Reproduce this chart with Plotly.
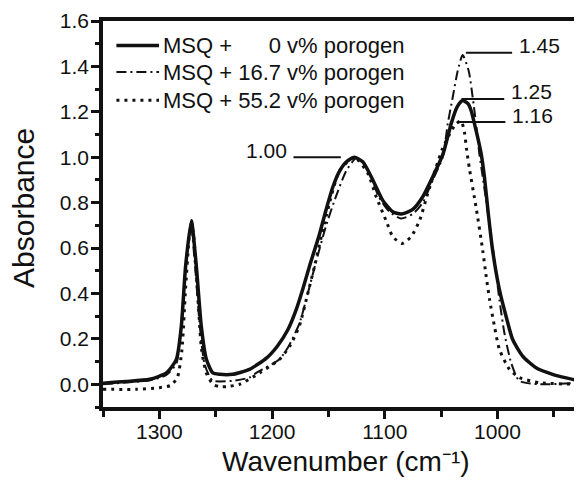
import plotly.graph_objects as go

# ---------------- data ----------------
wn_0 = [1350, 1330, 1308.6, 1293.8, 1284.9, 1280.5, 1276.7, 1271.6, 1267.2, 1262.8, 1258.3,
        1252.5, 1246.5, 1235, 1220, 1205, 1195, 1186, 1178.5, 1172.7, 1166.8,
        1158, 1152, 1146, 1140, 1134, 1127, 1119.5, 1110.6, 1101.8, 1092.9, 1085.5, 1075.2,
        1066.3, 1057.4, 1048.6, 1042.6, 1041.1, 1036, 1031, 1026, 1023.4, 1019, 1014.5,
        1011.6, 1008.1, 1004.3, 998.3, 992.4, 986.5, 977.7, 965.8, 951.1, 927.4, 920]
abs_0 = [0.005, 0.012, 0.022, 0.05, 0.11, 0.256, 0.52, 0.72, 0.52, 0.256, 0.11,
         0.05, 0.044, 0.044, 0.066, 0.115, 0.17, 0.24, 0.33, 0.42, 0.52,
         0.66, 0.77, 0.87, 0.94, 0.98, 1.0, 0.98, 0.90, 0.81, 0.76, 0.75, 0.77,
         0.826, 0.914, 1.01, 1.12, 1.148, 1.22, 1.25, 1.235, 1.206, 1.118, 1.016,
         0.914, 0.75, 0.59, 0.417, 0.30, 0.197, 0.124, 0.073, 0.044, 0.015, 0.012]

wn_167 = [1350, 1330, 1308, 1294, 1285, 1281, 1277, 1272, 1268, 1264, 1260, 1255, 1252.5,
          1235, 1220, 1214, 1193.4, 1185, 1175.6, 1168.3, 1161.5, 1152, 1143.1, 1134.2,
          1125.4, 1118, 1104.7, 1095.8, 1085.5, 1075.2, 1066.3, 1057.4, 1048.6, 1044.1,
          1039.7, 1035.3, 1030.9, 1025.5, 1022, 1019, 1016.1, 1013.1, 1002.7, 998.3, 993.9,
          987.9, 980.6, 962.9, 927.4, 920]
abs_167 = [0.0, 0.008, 0.018, 0.04, 0.09, 0.24, 0.5, 0.70, 0.5, 0.25, 0.09, 0.03, 0.015,
           0.015, 0.03, 0.05, 0.11, 0.17, 0.27, 0.40, 0.53, 0.70, 0.83, 0.94,
           0.995, 0.97, 0.82, 0.76, 0.73, 0.75, 0.80, 0.90, 1.0, 1.148,
           1.264, 1.38, 1.45, 1.38, 1.264, 1.148, 1.016, 0.914, 0.55, 0.373, 0.227,
           0.095, 0.015, 0.0, 0.007, 0.008]

wn_552 = [1350, 1320, 1300, 1290, 1284, 1280, 1277, 1273.5, 1271.5, 1269.5, 1266, 1262.5,
          1258.3, 1252.5, 1247, 1240, 1228.8, 1211, 1193.4, 1184, 1175.6, 1168.3, 1162.3, 1152,
          1140.2, 1127, 1115.1, 1107.6, 1098.8, 1092.9, 1084.6, 1076.6, 1069.2, 1061.9,
          1054.4, 1048.6, 1042.6, 1037.3, 1032.3, 1029.3, 1027.3, 1024.9, 1019, 1013.1,
          1010, 1007, 1002.7, 998.3, 989.4, 980.6, 962.9, 927.4, 920]
abs_552 = [-0.022, -0.022, -0.015, -0.005, 0.03, 0.15, 0.4, 0.65, 0.71, 0.65, 0.4, 0.15,
           0.05, 0.0, -0.01, -0.01, 0.0, 0.05, 0.11, 0.17, 0.26, 0.40, 0.52, 0.74,
           0.94, 1.0, 0.93, 0.826, 0.72, 0.65, 0.62, 0.65, 0.72, 0.84,
           0.957, 1.04, 1.10, 1.145, 1.16, 1.11, 1.03, 0.95, 0.78, 0.59,
           0.475, 0.373, 0.256, 0.154, 0.066, 0.03, 0.007, 0.0, 0.0]

series_names = ["MSQ +\u2007\u2007\u2008 0 v% porogen",
                "MSQ + 16.7 v% porogen",
                "MSQ + 55.2 v% porogen"]

peak_labels = ["1.45", "1.25", "1.16", "1.00"]
peak_values = [1.46, 1.257, 1.155, 1.0]
peak_wn = [1028, 1032, 1035, 1139]
leader_len = [-41, -38, -42, 42]   # cm-1, sign = direction of the leader

x_title = "Wavenumber (cm\u207b\u00b9)"
y_title = "Absorbance"

FONT = "Arial, Liberation Sans, Helvetica, sans-serif"
INK = "#111111"
styles = [dict(color=INK, width=3.5, dash="solid"),
          dict(color=INK, width=2, dash="10px,4px,2px,4px"),
          dict(color=INK, width=3, dash="3px,5px")]

fig = go.Figure()
for wn, ab, name, st in zip([wn_0, wn_167, wn_552], [abs_0, abs_167, abs_552], series_names, styles):
    fig.add_trace(go.Scatter(x=wn, y=ab, mode="lines", name=name, showlegend=False,
                             line=dict(shape="spline", smoothing=0.6, **st)))

# peak labels with leader lines
for lab, v, w, L in zip(peak_labels, peak_values, peak_wn, leader_len):
    fig.add_shape(type="line", xref="x", yref="y", x0=w, x1=w + L, y0=v, y1=v,
                  line=dict(color=INK, width=2))
    fig.add_annotation(x=w + L, y=v, xref="x", yref="y", text=lab, showarrow=False,
                       xanchor="right" if L > 0 else "left", yanchor="middle",
                       xshift=-4 if L > 0 else 5, yshift=7,
                       font=dict(family=FONT, size=21, color=INK))

# legend (drawn in the upper-left corner of the plot)
legend_rows_y = [0.9367, 0.8677, 0.7946]
for name, st, ry in zip(series_names, styles, legend_rows_y):
    fig.add_shape(type="line", xref="paper", yref="paper", x0=0.028, x1=0.117, y0=ry, y1=ry,
                  line=st)
    fig.add_annotation(xref="paper", yref="paper", x=0.122, y=ry, text=name, showarrow=False,
                       xanchor="left", yanchor="middle",
                       font=dict(family=FONT, size=22, color=INK))

# axis titles
fig.add_annotation(xref="paper", yref="paper", x=0.508, y=-0.1408, text=x_title,
                   showarrow=False, xanchor="center", yanchor="middle",
                   font=dict(family=FONT, size=28, color=INK))
fig.add_annotation(xref="paper", yref="paper", x=-0.1656, y=0.515, text=y_title,
                   showarrow=False, xanchor="center", yanchor="middle", textangle=-90,
                   font=dict(family=FONT, size=30, color=INK))

# the page body adds an 8 px offset, so the figure is 8 px smaller than the window
fig.update_layout(
    width=574, height=472,
    margin=dict(l=95, r=0, t=12.5, b=72.5),
    paper_bgcolor="white", plot_bgcolor="white",
    font=dict(family=FONT, size=21, color=INK),
    showlegend=False,
)
fig.update_xaxes(range=[1350, 925], showgrid=False, zeroline=False,
                 showline=True, linecolor=INK, linewidth=3.5, mirror=True,
                 ticks="outside", ticklen=8, tickwidth=3, tickcolor=INK,
                 tick0=1000, dtick=100, ticklabelstandoff=-5,
                 minor=dict(dtick=50, ticks="outside", ticklen=6, tickwidth=3, tickcolor=INK),
                 tickfont=dict(family=FONT, size=21, color=INK))
fig.update_yaxes(range=[-0.1, 1.6], showgrid=False, zeroline=False,
                 showline=True, linecolor=INK, linewidth=3.5,
                 ticks="outside", ticklen=8, tickwidth=3, tickcolor=INK,
                 tick0=0, dtick=0.2, tickformat=".1f", ticklabelstandoff=-2,
                 minor=dict(dtick=0.1, ticks="outside", ticklen=4, tickwidth=3, tickcolor=INK),
                 tickfont=dict(family=FONT, size=21, color=INK))

fig.write_html("out.html")
